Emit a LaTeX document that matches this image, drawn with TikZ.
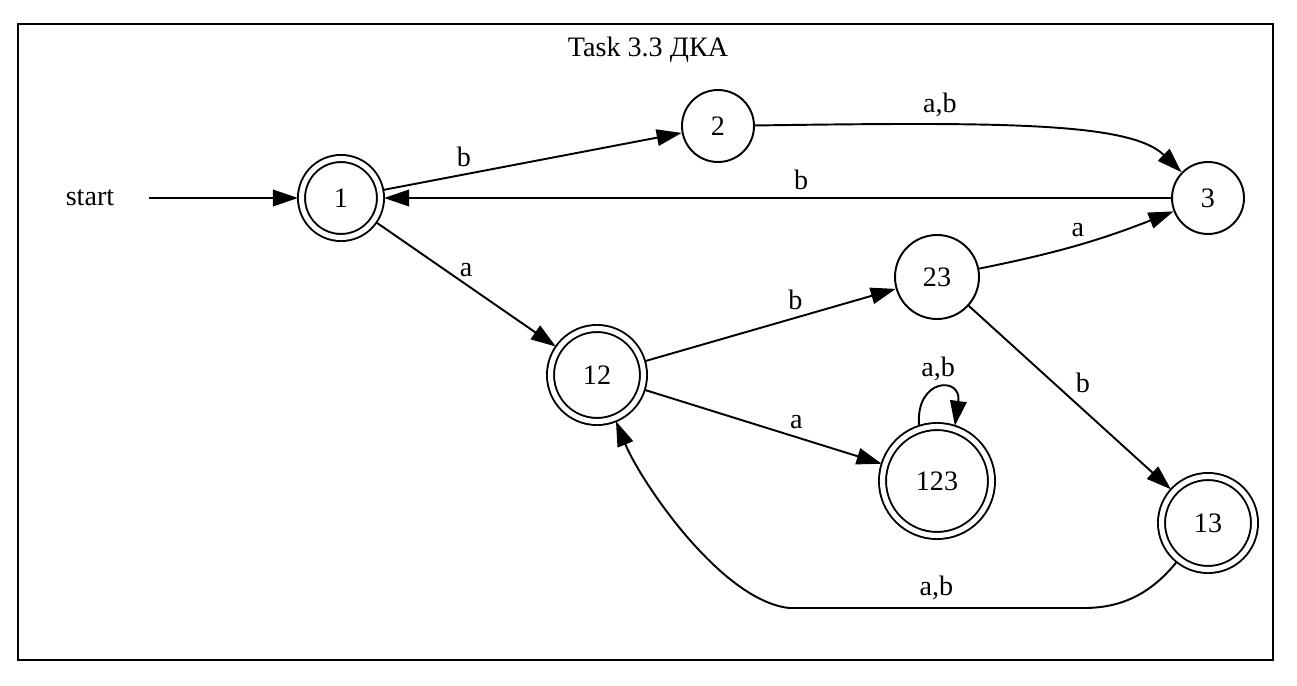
\documentclass[tikz,border=0pt]{standalone}
\usepackage{fontspec}
\setmainfont{Liberation Serif}
\usetikzlibrary{arrows.meta}

\begin{document}
\begin{tikzpicture}[
        >={Triangle[length=0.5cm,width=0.33cm]}, line width=1.1pt,
        every node/.style={font=\fontsize{16}{19}\selectfont},
        dfastate/.style={circle, draw, inner sep=0pt, minimum size=1.44cm},
        dfaaccept/.style={dfastate, double, double distance=2.9pt, outer sep=2pt},
        edgelabel/.style={inner sep=4pt},
    ]
    \useasboundingbox (0,0) rectangle (25.94,13.70);
    \draw[line width=1.5pt] (0.36,0.50) rectangle (25.46,13.22);
    \node (title) at (12.96,12.70) {Task 3.3 ДКА};

    \node[minimum width=2.32cm, inner sep=0pt] (start) at (1.8,9.74) {start};
    \node[dfaaccept, minimum size=1.58cm] (n1) at (6.82,9.74) {1};
    \node[dfastate] (n2) at (14.36,11.18) {2};
    \node[dfastate] (n3) at (24.16,9.74) {3};
    \node[dfaaccept, minimum size=1.86cm] (n12) at (11.94,6.20) {12};
    \node[dfastate, minimum size=1.68cm] (n23) at (18.74,8.16) {23};
    \node[dfaaccept, minimum size=2.18cm] (n123) at (18.74,4.08) {123};
    \node[dfaaccept, minimum size=1.86cm] (n13) at (24.16,3.24) {13};

    \draw[->] (start) -- (n1);
    \draw[->] (n1) -- node[edgelabel, pos=0.27, above] {b} (n2);
    \draw[->] (n2) .. controls (20.0,11.26) and (22.6,11.26) .. (n3)
        node[edgelabel, pos=0.29, above] {a,b};
    \draw[->] (n3) -- node[edgelabel, pos=0.47, above] {b} (n1);
    \draw[->] (n1) -- node[edgelabel, pos=0.5, above] {a} (n12);
    \draw[->] (n12) -- node[edgelabel, pos=0.6, above] {b} (n23);
    \draw[->] (n12) -- node[edgelabel, pos=0.64, above] {a} (n123);
    \draw[->] (n23) to[bend right=5] node[edgelabel, midway, above] {a} (n3);
    \draw[->] (n23) -- node[edgelabel, pos=0.42, right=8pt] {b} (n13);
    \draw[->] (n123.108) .. controls +(-0.08,0.96) and +(0.14,1.0) .. (n123.72)
        node[edgelabel, pos=0.5, above] {a,b};
    \draw[->] (n13) .. controls (23.0,1.80) and (22.4,1.54) .. (21.68,1.54)
        -- node[edgelabel, midway, above] {a,b} (15.78,1.54)
        .. controls (14.4,1.70) and (12.8,4.10) .. (n12);

\end{tikzpicture}
\end{document}
